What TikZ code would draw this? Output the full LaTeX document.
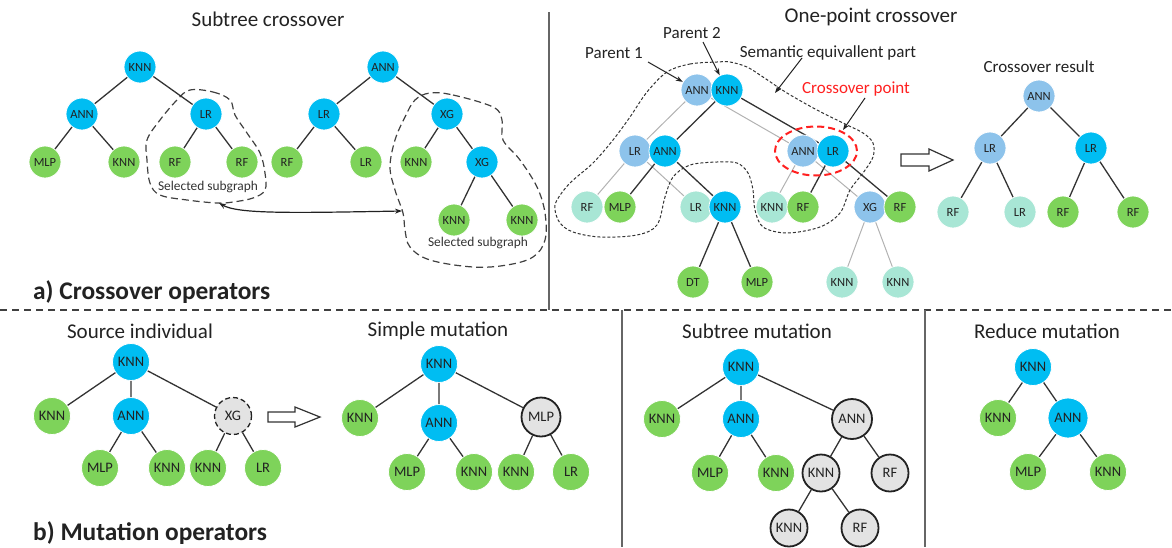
\documentclass[tikz,border=0pt]{standalone}
\usepackage{fontspec}
\setmainfont{Carlito}
\usetikzlibrary{arrows.meta,shapes.geometric,calc,backgrounds}
\definecolor{cyanN}{HTML}{00BDF2}
\definecolor{greenN}{HTML}{7ED35A}
\definecolor{lblueN}{HTML}{8DC3EB}
\definecolor{tealN}{HTML}{A8E6D5}
\definecolor{grayN}{HTML}{E3E3E3}
\definecolor{inkN}{HTML}{222222}
\definecolor{redN}{HTML}{FF2020}
\tikzset{
  nd/.style={circle, draw=white, line width=0.8pt, minimum size=32pt, inner sep=0pt,
             font=\fontsize{12.5}{14}\selectfont, text=inkN},
  cy/.style={nd, fill=cyanN},
  gr/.style={nd, fill=greenN},
  lb/.style={nd, fill=lblueN},
  tl/.style={nd, fill=tealN},
  big/.style={minimum size=37pt, font=\fontsize{14.5}{16}\selectfont},
  huge/.style={minimum size=40pt},
  gy/.style={nd, big, fill=grayN, draw=inkN, line width=1.8pt},
  gyd/.style={gy, line width=1.3pt, dash pattern=on 5pt off 3pt},
  edge/.style={draw=black!80, line width=1.3pt},
  pedge/.style={draw=black!30, line width=1pt},
  blob/.style={draw=black!75, line width=1.2pt, dash pattern=on 7pt off 4pt},
  sblob/.style={draw=black!80, line width=1pt, dash pattern=on 3pt off 2pt},
  arr/.style={-{Stealth[length=7pt,width=5pt]}, line width=1pt, draw=inkN},
  ttl/.style={font=\fontsize{21}{24}\selectfont, text=inkN},
  lbl/.style={font=\fontsize{17}{20}\selectfont, text=inkN},
  sml/.style={font=\fontsize{13.4}{15}\selectfont, text=black!80},
  hdg/.style={font=\fontsize{25.4}{28}\selectfont\bfseries, text=inkN, anchor=base west, inner sep=0pt},
  sep/.style={draw=black!60, line width=1.5pt},
  hollow/.style={draw=black!80, line width=1.2pt, fill=white}
}
\begin{document}
\begin{tikzpicture}[x=1pt, y=-1pt]
\useasboundingbox (0,0) rectangle (1172,547);

% ---------- frame lines ----------
\draw[sep] (549,12) -- (549,310);
\draw[draw=black!75, line width=1.3pt, dash pattern=on 7pt off 5pt] (0,310) -- (1172,310);
\draw[sep] (622,310) -- (622,547);
\draw[sep] (925,310) -- (925,547);

% ---------- subtree crossover ----------
\node[ttl] (tSub) at (268,19) {Subtree crossover};

\draw[blob] plot[smooth cycle, tension=0.6] coordinates {
  (190,90) (213,92) (230,100) (235,115) (247,133) (260,153) (265,173) (265,190)
  (253,198) (233,202) (217,203) (187,200) (160,195) (150,183) (147,160) (147,140)
  (160,120) (177,100)};
\draw[blob] plot[smooth cycle, tension=0.6] coordinates {
  (430,93) (453,95) (493,107) (502,120) (503,140) (520,160) (537,187) (545,213)
  (545,240) (533,257) (507,265) (473,267) (430,260) (410,247) (405,230) (403,213)
  (395,190) (390,167) (395,140) (405,117) (415,100)};

\node[cy] (a1) at (140,67) {KNN};
\node[cy] (a2) at (82,114) {ANN};
\node[cy] (a3) at (206,114) {LR};
\node[gr] (a4) at (45,162) {MLP};
\node[gr] (a5) at (124,162) {KNN};
\node[gr] (a6) at (175,162) {RF};
\node[gr] (a7) at (242,162) {RF};
\draw[edge] (a1) -- (a2) (a1) -- (a3) (a2) -- (a4) (a2) -- (a5) (a3) -- (a6) (a3) -- (a7);

\node[cy] (b1) at (383,67) {ANN};
\node[cy] (b2) at (324,114) {LR};
\node[cy] (b3) at (447,114) {XG};
\node[gr] (b4) at (287,162) {RF};
\node[gr] (b5) at (366,162) {LR};
\node[gr] (b6) at (416,162) {KNN};
\node[cy] (b7) at (482,162) {XG};
\node[gr] (b8) at (454,220) {KNN};
\node[gr] (b9) at (522,220) {KNN};
\draw[edge] (b1) -- (b2) (b1) -- (b3) (b2) -- (b4) (b2) -- (b5) (b3) -- (b6) (b3) -- (b7)
            (b7) -- (b8) (b7) -- (b9);

\node[sml] (sel1) at (208,187) {Selected subgraph};
\node[sml] (sel2) at (478,243) {Selected subgraph};

\coordinate (s1) at (219,203);
\coordinate (s2) at (402,211);
\draw[{Stealth[length=7pt,width=5pt]}-{Stealth[length=7pt,width=5pt]}, line width=1.2pt, draw=inkN]
  (s1) .. controls (238,214) and (290,213) .. (s2);

\node[hdg] (hA) at (33,299) {a) Crossover operators};

% ---------- one-point crossover ----------
\node[ttl] (tOne) at (871,17) {One-point crossover};
\node[lbl] (p1lab) at (614,53) {Parent 1};
\node[lbl] (p2lab) at (692,33) {Parent 2};
\node[lbl] (semlab) at (828,53) {Semantic equivallent part};
\node[lbl, text=redN] (cplab) at (856,89) {Crossover point};

\draw[sblob] plot[smooth cycle, tension=0.55] coordinates {
  (667,72) (690,64) (717,62) (730,62) (747,67) (763,77) (787,93) (817,110) (843,123)
  (863,133) (873,143) (873,157) (863,173) (850,190) (840,213) (820,227) (787,233)
  (763,227) (755,210) (753,190) (748,173) (737,163) (717,162) (690,165) (673,177)
  (665,197) (657,225) (637,235) (600,237) (573,232) (560,223) (555,210) (557,200)
  (570,183) (593,163) (613,140) (630,117) (647,92)};

% parent 1 tree (drawn first, lies underneath)
\node[lb] (c1) at (697,90) {ANN};
\node[lb] (c2) at (635,151) {LR};
\node[lb] (c3) at (803,151) {ANN};
\node[tl] (c4) at (587,207) {RF};
\node[tl] (c5) at (696,207) {LR};
\node[tl] (c6) at (772,207) {KNN};
\node[lb] (c8) at (870,207) {XG};
\node[tl] (c9) at (842,282) {KNN};
\node[tl] (c10) at (898,282) {KNN};
% parent 2 tree
\node[cy] (d1) at (727,90) {KNN};
\node[cy] (d2) at (665,151) {ANN};
\node[cy] (d3) at (833,151) {LR};
\node[gr] (d4) at (620,207) {MLP};
\node[cy] (d5) at (725,207) {KNN};
\node[gr] (d6) at (803,207) {RF};
\node[gr] (d7) at (900,207) {RF};
\node[gr] (d8) at (693,282) {DT};
\node[gr] (d9) at (757,282) {MLP};

\begin{scope}[on background layer]
  \draw[pedge] (c1.center) -- (c2.center) (c1.center) -- (c3.center)
               (c2.center) -- (c4.center) (c2.center) -- (c5.center)
               (c3.center) -- (c6.center) (c3.center) -- (c8.center)
               (c8.center) -- (c9.center) (c8.center) -- (c10.center);
  \draw[edge] (d1.center) -- (d2.center) (d1.center) -- (d3.center)
              (d2.center) -- (d4.center) (d2.center) -- (d5.center)
              (d3.center) -- (d6.center) (d3.center) -- (d7.center)
              (d5.center) -- (d8.center) (d5.center) -- (d9.center);
\end{scope}

\node[ellipse, draw=redN, line width=2pt, dash pattern=on 7pt off 4pt,
      minimum width=82pt, minimum height=49pt] (cpell) at (816,151) {};

\coordinate (q1) at (648,62);
\coordinate (q2) at (703,42);
\coordinate (q3) at (802,58);
\coordinate (q4) at (775,93);
\coordinate (q5) at (865,98);
\coordinate (q6) at (843,130);
\draw[arr] (q1) -- (c1);
\draw[arr] (q2) -- (d1);
\draw[arr] (q3) -- (q4);
\draw[arr] (q5) -- (q6);

% transition arrow
\draw[hollow] (901,154) -- (929,154) -- (929,149) -- (953,160) -- (929,171) -- (929,166) -- (901,166) -- cycle;

% crossover result
\node[lbl] (tRes) at (1039,67) {Crossover result};
\node[lb] (e1) at (1039,96) {ANN};
\node[lb] (e2) at (990,148) {LR};
\node[cy] (e3) at (1091,148) {LR};
\node[tl] (e4) at (953,212) {RF};
\node[tl] (e5) at (1020,212) {LR};
\node[gr] (e6) at (1063,212) {RF};
\node[gr] (e7) at (1133,212) {RF};
\draw[edge] (e1) -- (e2) (e1) -- (e3) (e2) -- (e4) (e2) -- (e5) (e3) -- (e6) (e3) -- (e7);

% ---------- mutation operators ----------
\node[ttl] (tSrc) at (140,331) {Source individual};
\node[cy, big] (f1) at (131,362) {KNN};
\node[gr, big] (f2) at (52,416) {KNN};
\node[cy, big] (f3) at (131,416) {ANN};
\node[gyd] (f4) at (233,416) {XG};
\node[gr, big] (f5) at (100,468) {MLP};
\node[gr, big] (f6) at (167,468) {KNN};
\node[gr, big] (f7) at (208,468) {KNN};
\node[gr, big] (f8) at (263,468) {LR};
\draw[edge] (f1) -- (f2) (f1) -- (f3) (f1) -- (f4) (f3) -- (f5) (f3) -- (f6) (f4) -- (f7) (f4) -- (f8);

\draw[hollow] (268,412) -- (295,412) -- (295,407) -- (320,417) -- (295,427) -- (295,422) -- (268,422) -- cycle;

\node[ttl] (tSim) at (438,331) {Simple mutation};
\node[cy, big] (g1) at (439,364) {KNN};
\node[gr, big] (g2) at (360,418) {KNN};
\node[cy, big] (g3) at (439,423) {ANN};
\node[gy, minimum size=39pt] (g4) at (541,417) {MLP};
\node[gr, big] (g5) at (407,472) {MLP};
\node[gr, big] (g6) at (474,472) {KNN};
\node[gr, big] (g7) at (516,472) {KNN};
\node[gr, big] (g8) at (571,472) {LR};
\draw[edge] (g1) -- (g2) (g1) -- (g3) (g1) -- (g4) (g3) -- (g5) (g3) -- (g6) (g4) -- (g7) (g4) -- (g8);

\node[ttl] (tStm) at (757,331) {Subtree mutation};
\node[cy, big] (h1) at (741,367) {KNN};
\node[gr, big] (h2) at (662,419) {KNN};
\node[cy, big] (h3) at (741,419) {ANN};
\node[gy, huge] (h4) at (852,419) {ANN};
\node[gr, big] (h5) at (710,473) {MLP};
\node[gr, big] (h6) at (776,473) {KNN};
\node[gy] (h7) at (821,473) {KNN};
\node[gy] (h8) at (890,473) {RF};
\node[gy] (h9) at (789,528) {KNN};
\node[gy] (h10) at (860,528) {RF};
\draw[edge] (h1) -- (h2) (h1) -- (h3) (h1) -- (h4) (h3) -- (h5) (h3) -- (h6) (h4) -- (h7) (h4) -- (h8)
            (h7) -- (h9) (h7) -- (h10);

\node[ttl] (tRed) at (1047,331) {Reduce mutation};
\node[cy, big] (k1) at (1033,367) {KNN};
\node[gr, big] (k2) at (998,418) {KNN};
\node[cy, big, huge] (k3) at (1068,418) {ANN};
\node[gr, big] (k4) at (1028,472) {MLP};
\node[gr, big] (k5) at (1108,472) {KNN};
\draw[edge] (k1) -- (k2) (k1) -- (k3) (k3) -- (k4) (k3) -- (k5);

\node[hdg] (hB) at (33,540) {b) Mutation operators};
\end{tikzpicture}
\end{document}
